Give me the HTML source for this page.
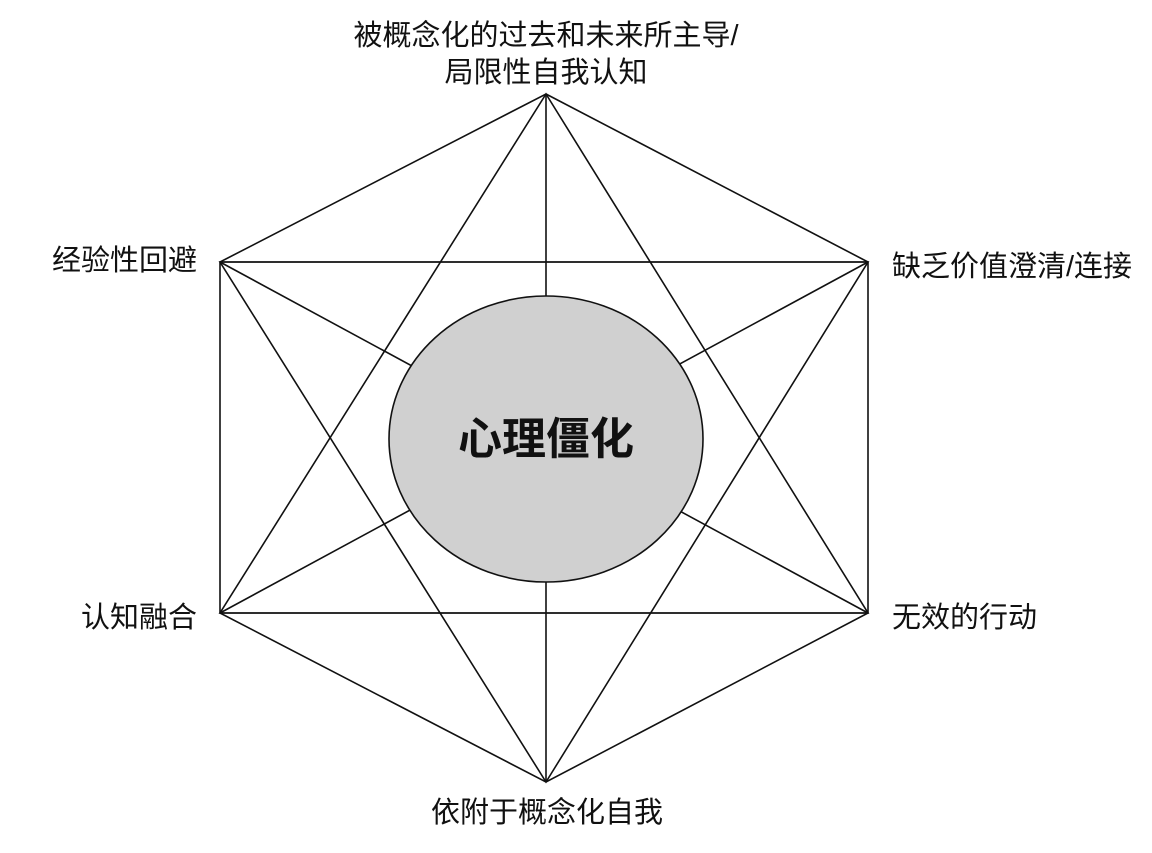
<!DOCTYPE html>
<html><head><meta charset="utf-8"><style>
html,body{margin:0;padding:0;background:#fff;}
svg text{font-family:"Liberation Sans","Noto Sans CJK SC",sans-serif;fill:#111;}
</style></head><body>
<svg width="1152" height="848" viewBox="0 0 1152 848" xmlns="http://www.w3.org/2000/svg">
<g stroke="#111" stroke-width="1.6" fill="none">
<polygon points="546,94 868,262 868,613 546,782 220,613 220,262"/>
<polygon points="546,94 868,613 220,613"/>
<polygon points="546,782 868,262 220,262"/>
<line x1="220" y1="262" x2="868" y2="262"/>
<line x1="220" y1="613" x2="868" y2="613"/>
<line x1="546" y1="94" x2="546" y2="782"/>
<line x1="220" y1="262" x2="868" y2="613"/>
<line x1="868" y1="262" x2="220" y2="613"/>
</g>
<ellipse cx="546" cy="439" rx="157" ry="143" fill="#d0d0d0" stroke="#111" stroke-width="1.6"/>
<text x="546" y="454" font-size="44" text-anchor="middle" font-weight="bold">心理僵化</text>
<text x="546" y="45" font-size="29" text-anchor="middle">被概念化的过去和未来所主导/</text>
<text x="546" y="82" font-size="29" text-anchor="middle">局限性自我认知</text>
<text x="197" y="270" font-size="29" text-anchor="end">经验性回避</text>
<text x="892" y="276" font-size="29">缺乏价值澄清/连接</text>
<text x="197" y="627" font-size="29" text-anchor="end">认知融合</text>
<text x="892" y="627" font-size="29">无效的行动</text>
<text x="547" y="822" font-size="29" text-anchor="middle">依附于概念化自我</text>
</svg>
</body></html>
